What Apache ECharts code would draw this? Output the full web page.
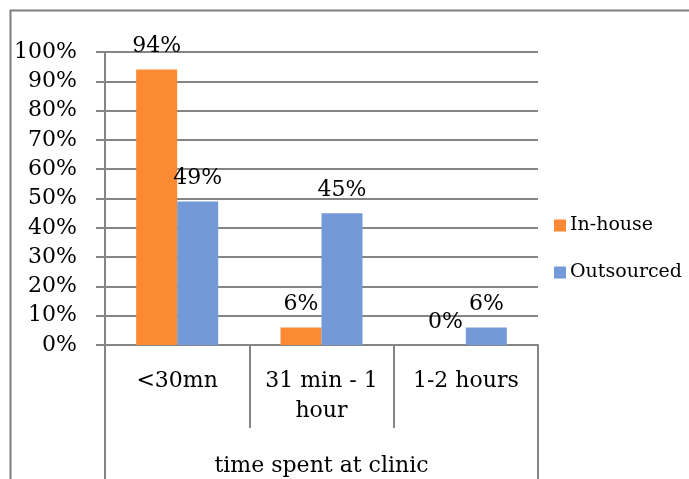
<!DOCTYPE html>
<html>
<head>
<meta charset="utf-8">
<script src="https://cdn.jsdelivr.net/npm/echarts@6/dist/echarts.min.js"></script>
<style>html,body{margin:0;padding:0;background:#fff}#c{width:689px;height:479px}</style>
</head>
<body>
<div id="c"></div>
<script>
const categories = ['<30mn', '31 min - 1\nhour', '1-2 hours'];
const groupTitle = ['time spent at clinic'];
const seriesNames = ['In-house', 'Outsourced'];
const inHouse = [0.94, 0.06, 0.00];
const outsourced = [0.49, 0.45, 0.06];
const yTicks = [0, 0.1, 0.2, 0.3, 0.4, 0.5, 0.6, 0.7, 0.8, 0.9, 1.0];

const FONT = 'DejaVu Serif';
const GRAY = '#858585';
const pct = v => Math.round(v * 100) + '%';

const chart = echarts.init(document.getElementById('c'), null, {renderer: 'canvas'});
chart.setOption({
  animation: false,
  backgroundColor: '#fff',
  graphic: [{
    type: 'rect', left: 8, top: 8, z: -10,
    shape: {width: 760, height: 560},
    style: {fill: 'none', stroke: '#7f7f7f', lineWidth: 2}
  }],
  grid: {left: 105, right: 151, top: 52, bottom: 132, containLabel: false},
  legend: {
    orient: 'vertical', left: 549, top: 211, itemGap: 28,
    itemWidth: 12, itemHeight: 12, icon: 'rect',
    textStyle: {fontFamily: FONT, fontSize: 19, color: '#000', padding: [0, 0, 0, -1]},
    data: seriesNames
  },
  xAxis: [{
    type: 'category', data: categories, position: 'bottom',
    axisLine: {show: true, lineStyle: {color: GRAY, width: 2}},
    axisTick: {show: true, interval: 0, length: 83, lineStyle: {color: GRAY, width: 2}},
    axisLabel: {interval: 0, margin: 21, fontFamily: FONT, fontSize: 22, lineHeight: 30, color: '#000'}
  }, {
    type: 'category', data: groupTitle, position: 'bottom',
    axisLine: {show: false},
    axisTick: {show: true, interval: 0, length: 140, lineStyle: {color: GRAY, width: 2}},
    axisLabel: {interval: 0, margin: 108, fontFamily: FONT, fontSize: 22, lineHeight: 26, color: '#000'}
  }],
  yAxis: {
    type: 'value', min: 0, max: 1, interval: 0.1,
    axisLine: {show: true, lineStyle: {color: GRAY, width: 2}},
    axisTick: {show: true, length: 9, lineStyle: {color: GRAY, width: 2}},
    splitLine: {show: true, lineStyle: {color: GRAY, width: 2}},
    axisLabel: {margin: 28, formatter: v => pct(v), fontFamily: FONT, fontSize: 22, color: '#000'}
  },
  series: [{
    name: seriesNames[0], type: 'bar', data: inHouse, xAxisIndex: 0,
    barWidth: 41, barGap: '0%',
    itemStyle: {color: '#FB8A33'},
    label: {show: true, position: 'top', distance: 12, formatter: p => pct(p.value), fontFamily: FONT, fontSize: 22, color: '#000'}
  }, {
    name: seriesNames[1], type: 'bar', data: outsourced, xAxisIndex: 0,
    barWidth: 41, barGap: '0%',
    itemStyle: {color: '#7399D8'},
    label: {show: true, position: 'top', distance: 12, formatter: p => pct(p.value), fontFamily: FONT, fontSize: 22, color: '#000'}
  }]
});
</script>
</body>
</html>
